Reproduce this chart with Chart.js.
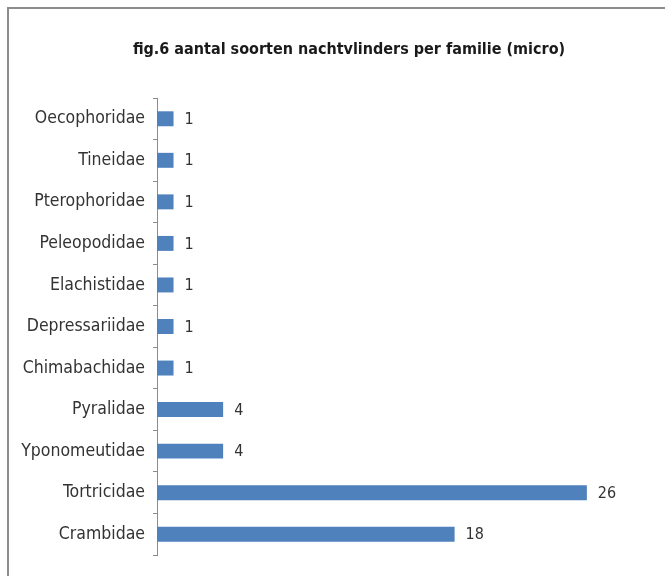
<!DOCTYPE html>
<html>
<head>
<meta charset="utf-8">
<script src="https://cdn.jsdelivr.net/npm/chart.js@4"></script>
<style>
  html, body { margin: 0; padding: 0; background: #fff; overflow: hidden; }
  #wrap { position: relative; width: 665px; height: 576px; }
  /* grey frame of the chart box, runs off right and bottom edge */
  #frame {
    position: absolute; left: 7px; top: 7px; width: 680px; height: 600px;
    border-left: 2px solid #8c8c8c; border-top: 2px solid #8c8c8c;
    box-sizing: border-box;
  }
  canvas { position: absolute; left: 0; top: 0; }
</style>
</head>
<body>
<div id="wrap">
  <div id="frame"></div>
  <canvas id="chart" width="665" height="576"></canvas>
</div>
<script>
/* ===================== DATA ===================== */
const families = [
  "Oecophoridae", "Tineidae", "Pterophoridae", "Peleopodidae", "Elachistidae",
  "Depressariidae", "Chimabachidae", "Pyralidae", "Yponomeutidae", "Tortricidae", "Crambidae"
];
const speciesCount = [1, 1, 1, 1, 1, 1, 1, 4, 4, 26, 18];

const FONT = "'Liberation Sans Narrow', 'DejaVu Sans Condensed', sans-serif";

/* ===================== PLUGINS ===================== */
// value printed right of every bar
const valueLabels = {
  id: "valueLabels",
  afterDatasetsDraw(chart) {
    const ctx = chart.ctx;
    const meta = chart.getDatasetMeta(0);
    ctx.save();
    ctx.font = "16px " + FONT;
    ctx.fillStyle = "#333333";
    ctx.textAlign = "left";
    ctx.textBaseline = "middle";
    meta.data.forEach((bar, i) => {
      ctx.fillText(String(speciesCount[i]), bar.x + 11, bar.y + 1);
    });
    ctx.restore();
  }
};

// title in the reference sits a bit right of the canvas centre
const shiftTitle = {
  id: "shiftTitle",
  afterLayout(chart) {
    if (chart.titleBlock) chart.titleBlock.left += 45;
  }
};

/* ===================== CHART ===================== */
new Chart(document.getElementById("chart"), {
  type: "bar",
  data: {
    labels: families,
    datasets: [{
      data: speciesCount,
      backgroundColor: "#4F81BD",
      borderWidth: 0,
      barPercentage: 0.72,
      categoryPercentage: 0.5
    }]
  },
  options: {
    indexAxis: "y",
    responsive: false,
    animation: false,
    layout: {
      padding: { top: 40, left: 0, right: 12, bottom: 21 }
    },
    plugins: {
      legend: { display: false },
      tooltip: { enabled: false },
      title: {
        display: true,
        text: "fig.6 aantal soorten nachtvlinders per familie (micro)",
        color: "#1a1a1a",
        font: { family: FONT, size: 16, weight: "bold" },
        padding: { top: 0, bottom: 38.8 }
      }
    },
    scales: {
      x: {
        display: false,
        min: 0,
        max: 30
      },
      y: {
        afterFit: (scale) => { scale.width = 157; },
        grid: {
          display: true,
          drawOnChartArea: false,
          drawTicks: true,
          tickLength: 4,
          color: "#8c8c8c",
          offset: true
        },
        border: { display: true, color: "#8c8c8c", width: 1 },
        ticks: {
          color: "#333333",
          padding: 8,
          font: { family: FONT, size: 17.5 }
        }
      }
    }
  },
  plugins: [valueLabels, shiftTitle]
});
</script>
</body>
</html>
